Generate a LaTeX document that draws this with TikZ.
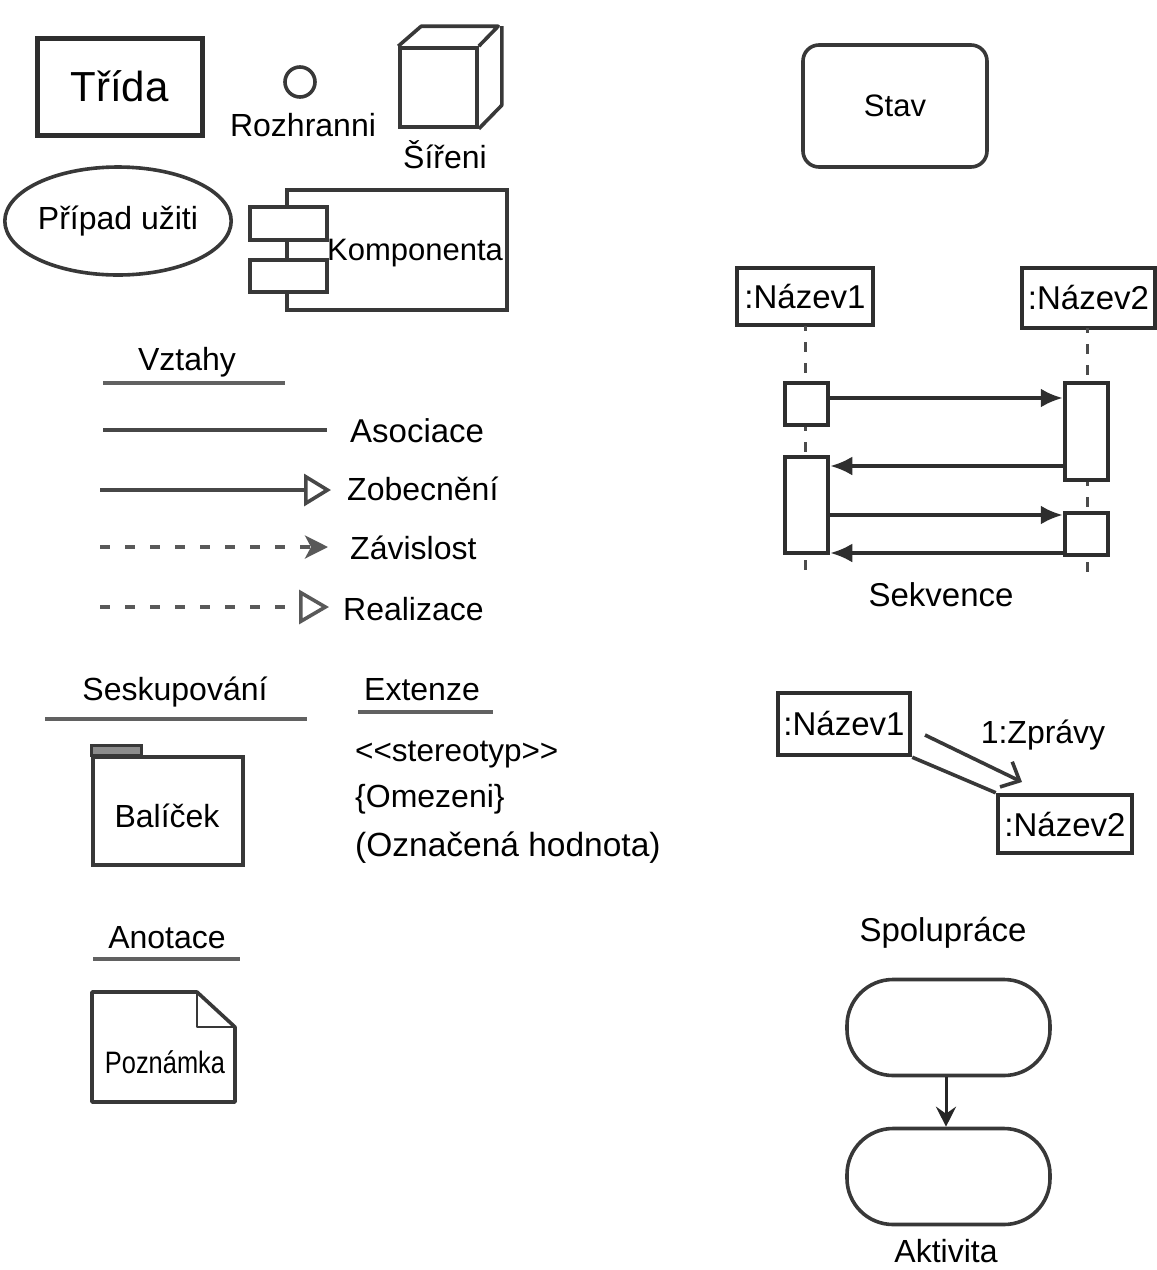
\documentclass[tikz,border=0pt]{standalone}
\usepackage{fontspec}
\setmainfont{Liberation Sans}
\usetikzlibrary{arrows.meta,shapes.geometric,calc}
\newcommand\fsz[1]{\fontsize{#1}{#1}\selectfont}
\begin{document}
\begin{tikzpicture}[x=1pt,y=-1pt,
  outl/.style={draw=black!82,line width=4.5pt},
  thin/.style={draw=black!78,line width=3.6pt},
  txt/.style={inner sep=0pt,font=\fsz{32}},
  lifeline/.style={draw=black!70,line width=3pt,dash pattern=on 10pt off 11pt},
  relline/.style={draw=black!72,line width=3.6pt},
  reldash/.style={draw=black!65,line width=3.6pt,dash pattern=on 10pt off 15pt},
  uline/.style={draw=black!62,line width=3.8pt},
  msg/.style={draw=black!82,line width=3.6pt,-{Latex[length=22pt,width=19pt]}},
  actbox/.style={outl,fill=white,minimum width=43pt},
  stadium/.style={thin,rounded corners=46pt,minimum width=203pt,minimum height=96pt}
]
\useasboundingbox (0,0) rectangle (1157,1270);

% ---------- things ----------
\node[outl,line width=5pt,minimum width=165pt,minimum height=97pt,font=\fsz{42}] (trida) at (119.5,86.5) {Třída};

\node[circle,thin,minimum size=30pt,inner sep=0pt] (rozh) at (300,82) {};
\node[txt] (rozhT) at (303,125) {Rozhranni};

% node (deployment cube)
\node[thin,minimum width=77pt,minimum height=79pt,inner sep=0pt] (cube) at (438.5,87.5) {};
\draw[thin,line join=round] (cube.north west) -- ++(23,-20) -- ++(77,0) -- (cube.north east);
\draw[thin,line join=round] ([shift={(23,-20)}]cube.north east) -- ++(0,79) -- (cube.south east);
\node[txt] (cubeT) at (445,155) {Šířeni};

\node[ellipse,thin,minimum width=210pt,minimum height=108pt,inner sep=0pt,font=\fsz{32}] (uc) at (118,221) {Případ užiti};

% component
\node[thin,minimum width=220pt,minimum height=120pt,inner sep=0pt] (comp) at (397,250) {};
\node[thin,fill=white,minimum width=77pt,minimum height=33pt,inner sep=0pt] (compA) at (288.5,223.5) {};
\node[thin,fill=white,minimum width=77pt,minimum height=32pt,inner sep=0pt] (compB) at (288.5,276) {};
\node[txt,anchor=west,font=\fsz{31}] (compT) at (327,253) {Komponenta};

% state
\node[thin,rounded corners=16pt,minimum width=184pt,minimum height=122pt,font=\fsz{31}] (stav) at (895,106) {Stav};

% ---------- relationships ----------
\node[txt] (vztahy) at (187,362) {Vztahy};
\coordinate (v1) at (103,383); \coordinate (v2) at (285,383);
\draw[uline] (v1) -- (v2);

\coordinate (asA) at (103,430); \coordinate (asB) at (327,430);
\draw[relline] (asA) -- (asB);
\node[txt,anchor=west,font=\fsz{33}] (asT) at (350,431) {Asociace};

\coordinate (zoA) at (100,490); \coordinate (zoB) at (331,490);
\draw[relline,-{Triangle[open,length=27pt,width=32pt,line width=3.6pt]}] (zoA) -- (zoB);
\node[txt,anchor=west] (zoT) at (347,489) {Zobecnění};

\coordinate (zaA) at (100,547); \coordinate (zaB) at (328,547);
\draw[reldash,-{Stealth[length=23pt,width=23pt,inset=6pt]}] (zaA) -- (zaB);
\node[txt,anchor=west] (zaT) at (350,548) {Závislost};

\coordinate (reA) at (100,607); \coordinate (reB) at (329,607);
\draw[reldash,-{Triangle[open,length=30pt,width=34pt,line width=3.6pt]}] (reA) -- (reB);
\node[txt,anchor=west] (reT) at (343,609) {Realizace};

% ---------- grouping ----------
\node[txt] (sesk) at (175,692) {Seskupování};
\coordinate (s1) at (45,719); \coordinate (s2) at (307,719);
\draw[uline] (s1) -- (s2);

\node[thin,minimum width=150pt,minimum height=108pt,inner sep=0pt] (pkg) at (168,811) {};
\draw[thin,fill=black!45,line width=3pt] (pkg.north west) -- ++(0,-10) -- ++(50,0) -- ++(0,10) -- cycle;
\node[txt] (pkgT) at (167,816) {Balíček};

% ---------- extension ----------
\node[txt] (ext) at (422,690) {Extenze};
\coordinate (e1) at (358,712); \coordinate (e2) at (493,712);
\draw[uline] (e1) -- (e2);
\node[txt,anchor=west,font=\fsz{31.5}] (st) at (355,755) {<\kern0pt<stereotyp>\kern0pt>};
\node[txt,anchor=west,font=\fsz{32}] (om) at (355,799) {\{Omezeni\}};
\node[txt,anchor=west,font=\fsz{33.5}] (oh) at (355,848) {(Označená hodnota)};

% ---------- annotation ----------
\node[txt] (anot) at (167,938) {Anotace};
\coordinate (a1u) at (93,959); \coordinate (a2u) at (240,959);
\draw[uline] (a1u) -- (a2u);

\coordinate (nNW) at (92,992); \coordinate (nF) at (197,992);
\coordinate (nFe) at (235,1027); \coordinate (nSE) at (235,1102);
\coordinate (nSW) at (92,1102); \coordinate (nFc) at (197,1027);
\draw[thin,line join=round] (nNW) -- (nF) -- (nFe) -- (nSE) -- (nSW) -- cycle;
\draw[thin,line join=round,line width=2.8pt] (nF) -- (nFc) -- (nFe);
\node[txt,font=\fsz{31},xscale=0.82] (noteT) at (165,1062) {Poznámka};

% ---------- sequence ----------
\node[outl,minimum width=136pt,minimum height=57pt,inner sep=0pt,font=\fsz{33}] (sn1) at (805,296.5) {:Název1};
\node[outl,minimum width=133pt,minimum height=60pt,inner sep=0pt,font=\fsz{33}] (sn2) at (1088.5,298) {:Název2};

\coordinate (l1top) at (805,326); \coordinate (l2top) at (1087,328);
\coordinate (l1end) at (805,580); \coordinate (l2end) at (1087,582);

\node[actbox,minimum height=42pt] (act1) at (806.5,404) {};
\node[actbox,minimum height=97pt] (act2) at (1086.5,431.5) {};
\node[actbox,minimum height=96pt] (act3) at (806.5,505) {};
\node[actbox,minimum height=42pt] (act4) at (1086.5,534) {};

\draw[lifeline,dash phase=5pt] (l1top) -- (act1.north -| l1top);
\draw[lifeline,dash phase=6pt] (act1.south -| l1top) -- (act3.north -| l1top);
\draw[lifeline,dash phase=16pt] (act3.south -| l1top) -- (l1end);
\draw[lifeline,dash phase=5pt] (l2top) -- (act2.north -| l2top);
\draw[lifeline,dash phase=6pt] (act2.south -| l2top) -- (act4.north -| l2top);
\draw[lifeline,dash phase=16pt] (act4.south -| l2top) -- (l2end);

\draw[msg] ([yshift=6pt]act1.east) -- ([yshift=6pt]act1.east -| act2.west);
\draw[msg] (act2.west |- 0,466) -- (act3.east |- 0,466);
\draw[msg] (act3.east |- 0,515) -- (act4.west |- 0,515);
\draw[msg] (act4.west |- 0,553) -- (act3.east |- 0,553);

\node[txt,font=\fsz{33}] (sekv) at (941,595) {Sekvence};

% ---------- collaboration ----------
\node[outl,minimum width=132pt,minimum height=62pt,inner sep=0pt,font=\fsz{33}] (cn1) at (844,724) {:Název1};
\node[outl,minimum width=134pt,minimum height=58pt,inner sep=0pt,font=\fsz{33}] (cn2) at (1065,824) {:Název2};
\draw[thin] (cn1.south east) -- (cn2.north west);
\coordinate (mA) at (925,735); \coordinate (mB) at (1022,782);
\draw[thin,-{Straight Barb[length=15pt,width=28pt,line width=3.6pt]}] (mA) -- (mB);
\node[txt] (zpr) at (1043,735) {1:Zprávy};

\node[txt,font=\fsz{33}] (spol) at (943,933) {Spolupráce};

% ---------- activity ----------
\node[stadium] (act5) at (948.5,1027.5) {};
\node[stadium] (act6) at (948.5,1176.5) {};
\draw[draw=black!85,line width=3pt,-{Stealth[length=20pt,width=20pt,inset=7pt]}] (act5.south -| 946,0) -- (act6.north -| 946,0);
\node[txt] (akt) at (946,1251) {Aktivita};
\end{tikzpicture}
\end{document}
